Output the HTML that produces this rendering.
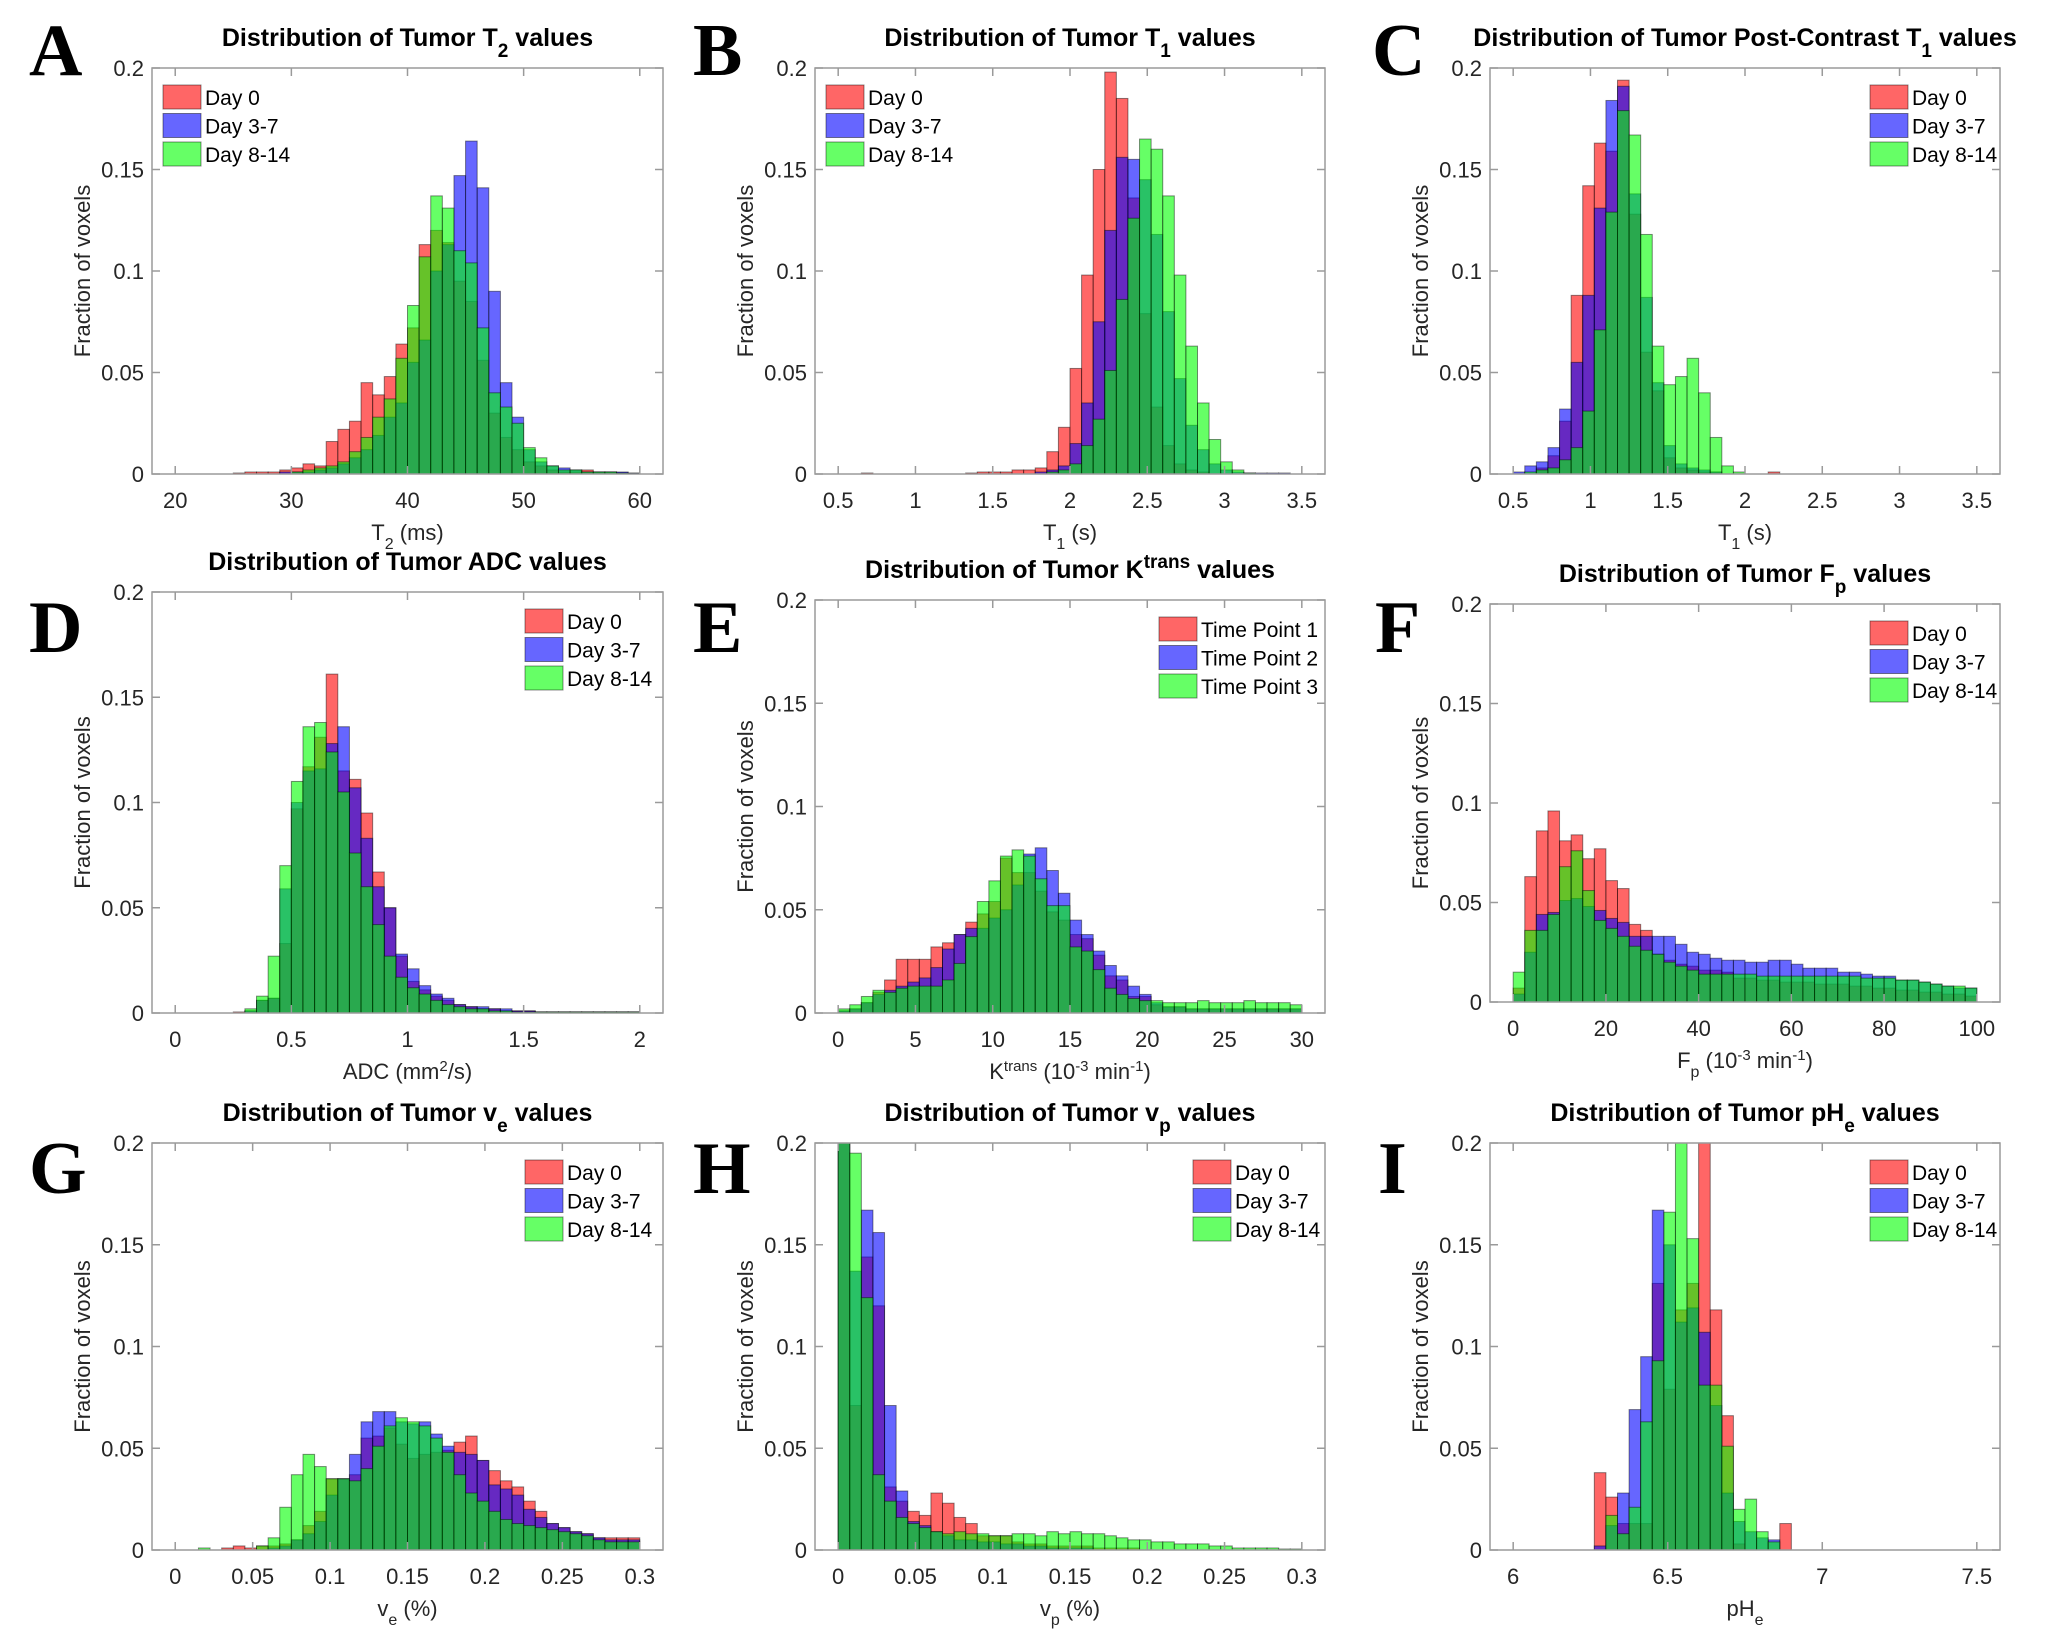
<!DOCTYPE html>
<html><head><meta charset="utf-8"><title>Tumor parameter distributions</title>
<style>
html,body{margin:0;padding:0;background:#fff;}
svg{display:block;font-family:"Liberation Sans",Arial,sans-serif;}
.tick{font-size:22px;fill:#262626;}
.ttl{font-size:25px;font-weight:bold;fill:#000;}
.lab{font-size:22px;fill:#262626;}
.leg{font-size:21px;fill:#000;}
.let{font-family:"Liberation Serif",serif;font-weight:bold;font-size:74px;fill:#000;}
</style></head>
<body>
<svg id="fig" width="2052" height="1647" viewBox="0 0 2052 1647" xmlns="http://www.w3.org/2000/svg"></svg>
<script>
// ---------- Panel A: T2 (bins start 20, width 1) ----------
const aTicks=[20,30,40,50,60];
const aRed=[0,0,0,0,0,0.0005,0.001,0.001,0.001,0.002,0.003,0.005,0.004,0.016,0.022,0.026,0.045,0.039,0.048,0.064,0.072,0.113,0.120,0.114,0.095,0.085,0.056,0.030,0.018,0.012,0.006,0.004,0.002,0.001,0.001,0.002,0.001,0.001,0.0005,0.0003];
const aBlue=[0,0,0,0,0,0,0,0,0,0.001,0.001,0.001,0.002,0.003,0.005,0.008,0.012,0.019,0.028,0.035,0.055,0.066,0.100,0.113,0.147,0.164,0.141,0.090,0.045,0.028,0.012,0.006,0.004,0.003,0.002,0.001,0.001,0.001,0.001,0.0005];
const aGreen=[0,0,0,0,0,0,0,0,0,0,0.001,0.002,0.003,0.004,0.006,0.011,0.018,0.028,0.037,0.057,0.083,0.107,0.137,0.131,0.110,0.104,0.072,0.040,0.033,0.025,0.013,0.008,0.004,0.002,0.002,0.001,0.001,0.001,0.0005,0.0003];
// ---------- Panel B: T1 ----------
const bTicks=[0.5,1,1.5,2,2.5,3,3.5];
const bRed=[0,0,0.0005,0,0,0,0,0,0,0,0,0.0005,0.001,0.001,0.001,0.002,0.002,0.003,0.011,0.023,0.052,0.098,0.150,0.198,0.185,0.136,0.079,0.033,0.014,0.005,0.002,0.001,0,0,0,0,0,0,0,0];
const bBlue=[0,0,0,0,0,0,0,0,0,0,0,0,0,0,0,0,0,0.001,0.002,0.004,0.015,0.035,0.075,0.120,0.156,0.155,0.145,0.118,0.080,0.047,0.024,0.012,0.005,0.002,0.001,0.0005,0.0005,0.0005,0.0005,0];
const bGreen=[0,0,0,0,0,0,0,0,0,0,0,0,0,0,0,0,0,0,0.001,0.002,0.005,0.014,0.027,0.051,0.086,0.126,0.165,0.160,0.137,0.098,0.063,0.035,0.017,0.006,0.002,0.0005,0,0,0,0];
// ---------- Panel C: post-contrast T1 ----------
const cTicks=[0.5,1,1.5,2,2.5,3,3.5];
const cRed=[0,0,0.003,0.009,0.026,0.088,0.142,0.163,0.159,0.194,0.128,0.060,0.041,0.008,0.003,0.002,0.001,0.001,0,0,0,0,0.001,0,0,0,0,0,0,0,0,0,0,0,0,0,0,0,0,0];
const cBlue=[0.001,0.004,0.006,0.013,0.032,0.055,0.088,0.131,0.184,0.191,0.138,0.087,0.045,0.014,0.005,0.003,0.002,0.001,0,0,0,0,0,0,0,0,0,0,0,0,0,0,0,0,0,0,0,0,0,0];
const cGreen=[0,0.001,0.002,0.003,0.007,0.013,0.031,0.071,0.129,0.179,0.167,0.118,0.063,0.044,0.048,0.057,0.040,0.018,0.004,0.001,0,0,0,0,0,0,0,0,0,0,0,0,0,0,0,0,0,0,0,0];
// ---------- Panel D: ADC ----------
const dTicks=[0,0.5,1,1.5,2];
const dRed=[0,0,0,0,0,0.0005,0.001,0.006,0.007,0.033,0.097,0.117,0.131,0.161,0.115,0.111,0.095,0.067,0.050,0.027,0.015,0.011,0.008,0.006,0.004,0.003,0.002,0.002,0.001,0.001,0.001,0.0005,0.0005,0.0005,0.0005,0.0005,0.0005,0.0005,0.0005,0.0005];
const dBlue=[0,0,0,0,0,0,0.001,0.006,0.007,0.059,0.100,0.115,0.116,0.128,0.136,0.107,0.083,0.060,0.050,0.028,0.021,0.013,0.009,0.007,0.004,0.003,0.003,0.002,0.002,0.001,0.001,0.0005,0.0005,0.0005,0.0005,0.0005,0.0005,0.0005,0.0005,0.0005];
const dGreen=[0,0,0,0,0,0,0.002,0.008,0.027,0.070,0.110,0.136,0.138,0.124,0.105,0.076,0.060,0.042,0.027,0.017,0.012,0.009,0.006,0.004,0.003,0.002,0.002,0.001,0.001,0.0005,0.0005,0.0005,0.0005,0.0005,0.0005,0.0005,0.0005,0.0005,0.0005,0.0005];
// ---------- Panel E: Ktrans ----------
const eTicks=[0,5,10,15,20,25,30];
const eRed=[0.001,0.002,0.005,0.010,0.016,0.026,0.026,0.026,0.032,0.034,0.038,0.044,0.048,0.054,0.075,0.068,0.068,0.059,0.049,0.045,0.038,0.036,0.028,0.018,0.016,0.008,0.008,0.004,0.003,0.003,0.002,0.002,0.002,0.002,0.002,0.002,0.002,0.002,0.002,0.002];
const eBlue=[0.001,0.002,0.005,0.009,0.011,0.013,0.015,0.017,0.022,0.031,0.038,0.041,0.041,0.046,0.050,0.062,0.077,0.080,0.069,0.058,0.045,0.038,0.030,0.023,0.018,0.013,0.009,0.005,0.003,0.003,0.002,0.002,0.002,0.002,0.002,0.002,0.002,0.002,0.002,0.002];
const eGreen=[0.002,0.004,0.008,0.011,0.010,0.012,0.013,0.013,0.013,0.016,0.024,0.037,0.054,0.064,0.076,0.079,0.076,0.065,0.052,0.052,0.032,0.030,0.021,0.012,0.009,0.007,0.006,0.006,0.005,0.005,0.005,0.006,0.005,0.005,0.005,0.006,0.005,0.005,0.005,0.004];
// ---------- Panel F: Fp ----------
const fTicks=[0,20,40,60,80,100];
const fRed=[0.007,0.063,0.086,0.096,0.081,0.084,0.072,0.077,0.061,0.057,0.039,0.036,0.024,0.021,0.019,0.018,0.016,0.016,0.015,0.012,0.012,0.011,0.011,0.010,0.010,0.010,0.009,0.009,0.009,0.008,0.008,0.007,0.007,0.006,0.006,0.005,0.005,0.004,0.004,0.003];
const fBlue=[0.004,0.025,0.044,0.045,0.051,0.052,0.048,0.046,0.042,0.040,0.033,0.033,0.033,0.033,0.029,0.025,0.024,0.022,0.021,0.021,0.020,0.020,0.021,0.021,0.019,0.017,0.017,0.017,0.015,0.015,0.014,0.013,0.013,0.011,0.011,0.010,0.009,0.008,0.007,0.007];
const fGreen=[0.015,0.036,0.036,0.044,0.068,0.076,0.056,0.041,0.037,0.033,0.028,0.026,0.024,0.020,0.018,0.016,0.014,0.014,0.014,0.014,0.014,0.013,0.013,0.013,0.013,0.013,0.013,0.013,0.013,0.013,0.012,0.012,0.012,0.011,0.011,0.010,0.009,0.008,0.008,0.007];
// ---------- Panel G: ve ----------
const gTicks=[0,0.05,0.1,0.15,0.2,0.25,0.3];
const gRed=[0,0,0,0,0.001,0.002,0.001,0.002,0.002,0.003,0.005,0.012,0.019,0.035,0.035,0.037,0.055,0.056,0.060,0.052,0.045,0.047,0.048,0.049,0.053,0.056,0.044,0.039,0.034,0.031,0.024,0.019,0.013,0.011,0.009,0.008,0.006,0.006,0.006,0.006];
const gBlue=[0,0,0,0,0,0,0,0,0.001,0.002,0.005,0.008,0.014,0.027,0.035,0.047,0.063,0.068,0.068,0.063,0.062,0.063,0.057,0.051,0.048,0.047,0.044,0.032,0.030,0.027,0.020,0.016,0.013,0.011,0.009,0.008,0.006,0.005,0.005,0.005];
const gGreen=[0,0,0.001,0,0,0,0,0.002,0.006,0.021,0.037,0.047,0.041,0.035,0.035,0.034,0.040,0.051,0.061,0.065,0.063,0.061,0.055,0.048,0.037,0.028,0.024,0.019,0.015,0.013,0.012,0.011,0.010,0.009,0.008,0.007,0.005,0.004,0.004,0.004];
// ---------- Panel H: vp ----------
const hTicks=[0,0.05,0.1,0.15,0.2,0.25,0.3];
const hRed=[0.21,0.071,0.144,0.120,0.031,0.024,0.019,0.017,0.028,0.023,0.016,0.013,0.007,0.007,0.007,0.004,0.003,0.003,0.002,0.002,0.002,0.002,0.001,0.001,0.001,0.001,0,0,0,0,0,0,0,0,0,0,0,0,0,0];
const hBlue=[0.25,0.137,0.167,0.156,0.071,0.029,0.014,0.012,0.009,0.007,0.005,0.005,0.004,0.004,0.003,0.003,0.002,0.002,0.001,0.001,0.001,0.001,0,0,0,0,0,0,0,0,0,0,0,0,0,0,0,0,0,0];
const hGreen=[0.23,0.195,0.124,0.037,0.024,0.016,0.013,0.011,0.009,0.008,0.009,0.008,0.008,0.007,0.007,0.008,0.008,0.007,0.009,0.008,0.009,0.008,0.008,0.007,0.006,0.005,0.005,0.004,0.004,0.003,0.003,0.003,0.002,0.002,0.001,0.001,0.001,0.001,0.0005,0.0005];
// ---------- Panel I: pHe ----------
const iTicks=[6,6.5,7,7.5];
const iRed=[0,0,0,0,0,0,0,0.038,0.026,0.013,0.013,0.013,0.131,0.079,0.118,0.131,0.22,0.118,0.066,0.003,0,0,0,0.013,0,0,0,0,0,0,0,0,0,0,0,0,0,0,0,0];
const iBlue=[0,0,0,0,0,0,0,0.002,0.012,0.028,0.069,0.095,0.167,0.150,0.112,0.119,0.107,0.071,0.028,0.014,0.009,0.006,0.005,0,0,0,0,0,0,0,0,0,0,0,0,0,0,0,0,0];
const iGreen=[0,0,0,0,0,0,0,0,0.017,0.008,0.021,0.063,0.093,0.166,0.23,0.153,0.081,0.081,0.051,0.020,0.025,0.009,0.004,0,0,0,0,0,0,0,0,0,0,0,0,0,0,0,0,0];

const yTicks=[0,0.05,0.1,0.15,0.2];
const yTickLabels=["0","0.05","0.1","0.15","0.2"];
const dayNames=["Day 0","Day 3-7","Day 8-14"];
const tpNames=["Time Point 1","Time Point 2","Time Point 3"];

const NS="http://www.w3.org/2000/svg";
const svg=document.getElementById('fig');
function mk(tag,attrs,parent){const e=document.createElementNS(NS,tag);for(const k in attrs)e.setAttribute(k,attrs[k]);(parent||svg).appendChild(e);return e;}

const panels=[
 {id:'a',letter:'A',lx:29,ly:75,L:152,R:663,T:68,B:474,ticks:aTicks,series:[aRed,aBlue,aGreen],names:dayNames,legLeft:true,legX:163,
  title:'Distribution of Tumor T<tspan baseline-shift="sub" font-size="19">2</tspan> values',xlab:'T<tspan baseline-shift="sub" font-size="16">2</tspan> (ms)'},
 {id:'b',letter:'B',lx:693,ly:75,L:815,R:1325,T:68,B:474,ticks:bTicks,series:[bRed,bBlue,bGreen],names:dayNames,legX:826,
  title:'Distribution of Tumor T<tspan baseline-shift="sub" font-size="19">1</tspan> values',xlab:'T<tspan baseline-shift="sub" font-size="16">1</tspan> (s)'},
 {id:'c',letter:'C',lx:1372,ly:75,L:1490,R:2000,T:68,B:474,ticks:cTicks,series:[cRed,cBlue,cGreen],names:dayNames,legX:1870,
  title:'Distribution of Tumor Post-Contrast T<tspan baseline-shift="sub" font-size="19">1</tspan> values',xlab:'T<tspan baseline-shift="sub" font-size="16">1</tspan> (s)'},
 {id:'d',letter:'D',lx:29,ly:652,L:152,R:663,T:592,B:1013,ticks:dTicks,series:[dRed,dBlue,dGreen],names:dayNames,legX:525,
  title:'Distribution of Tumor ADC values',xlab:'ADC (mm<tspan baseline-shift="super" font-size="15">2</tspan>/s)'},
 {id:'e',letter:'E',lx:693,ly:652,L:815,R:1325,T:600,B:1013,ticks:eTicks,series:[eRed,eBlue,eGreen],names:tpNames,legX:1159,
  title:'Distribution of Tumor K<tspan baseline-shift="super" font-size="19">trans</tspan> values',xlab:'K<tspan baseline-shift="super" font-size="15">trans</tspan> (10<tspan baseline-shift="super" font-size="15">-3</tspan> min<tspan baseline-shift="super" font-size="15">-1</tspan>)'},
 {id:'f',letter:'F',lx:1375,ly:652,L:1490,R:2000,T:604,B:1002,ticks:fTicks,series:[fRed,fBlue,fGreen],names:dayNames,legX:1870,
  title:'Distribution of Tumor F<tspan baseline-shift="sub" font-size="19">p</tspan> values',xlab:'F<tspan baseline-shift="sub" font-size="16">p</tspan> (10<tspan baseline-shift="super" font-size="15">-3</tspan> min<tspan baseline-shift="super" font-size="15">-1</tspan>)'},
 {id:'g',letter:'G',lx:29,ly:1193,L:152,R:663,T:1143,B:1550,ticks:gTicks,series:[gRed,gBlue,gGreen],names:dayNames,legX:525,
  title:'Distribution of Tumor v<tspan baseline-shift="sub" font-size="19">e</tspan> values',xlab:'v<tspan baseline-shift="sub" font-size="16">e</tspan> (%)'},
 {id:'h',letter:'H',lx:693,ly:1193,L:815,R:1325,T:1143,B:1550,ticks:hTicks,series:[hRed,hBlue,hGreen],names:dayNames,legX:1193,
  title:'Distribution of Tumor v<tspan baseline-shift="sub" font-size="19">p</tspan> values',xlab:'v<tspan baseline-shift="sub" font-size="16">p</tspan> (%)'},
 {id:'i',letter:'I',lx:1378,ly:1193,L:1490,R:2000,T:1143,B:1550,ticks:iTicks,series:[iRed,iBlue,iGreen],names:dayNames,legX:1870,
  title:'Distribution of Tumor pH<tspan baseline-shift="sub" font-size="19">e</tspan> values',xlab:'pH<tspan baseline-shift="sub" font-size="16">e</tspan>'}
];
const colors=['#ff0000','#0000ff','#00ff00'];
const seriesKeys=['day0','day3-7','day8-14'];

panels.forEach(p=>{
  const g=mk('g',{});
  
  
  const t0=p.ticks[0],t1=p.ticks[p.ticks.length-1];
  const pad=0.05*(t1-t0);
  const xmin=t0-pad,xmax=t1+pad;
  const xs=v=>p.L+(v-xmin)/(xmax-xmin)*(p.R-p.L);
  const ys=v=>p.B-(Math.min(v,0.2)/0.2)*(p.B-p.T);
  const bw=(t1-t0)/40;
  // panel letter
  const lt=mk('text',{x:p.lx,y:p.ly,class:'let'},g);lt.textContent=p.letter;
  
  
  // white plot background
  mk('rect',{x:p.L,y:p.T,width:p.R-p.L,height:p.B-p.T,fill:'#fff'},g);
  // bars
  p.series.forEach((arr,si)=>{
    const sg=mk('g',{},g);
    
    
    arr.forEach((v,k)=>{
      if(v<=0)return;
      const x0=xs(t0+k*bw),x1=xs(t0+(k+1)*bw);
      const r=mk('rect',{x:x0.toFixed(2),y:ys(v).toFixed(2),width:(x1-x0).toFixed(2),height:(p.B-ys(v)).toFixed(2),fill:colors[si],'fill-opacity':0.6,stroke:'#000','stroke-opacity':0.45,'stroke-width':1},sg);
      
      
    });
  });
  // axes box
  const box=mk('rect',{x:p.L,y:p.T,width:p.R-p.L,height:p.B-p.T,fill:'none',stroke:'#9a9a9a','stroke-width':1.5},g);
  
  
  // x ticks
  p.ticks.forEach(t=>{
    const x=xs(t);
    mk('line',{x1:x,y1:p.B,x2:x,y2:p.B-8,stroke:'#9a9a9a','stroke-width':1.5},g);
    mk('line',{x1:x,y1:p.T,x2:x,y2:p.T+8,stroke:'#9a9a9a','stroke-width':1.5},g);
    const tx=mk('text',{x:x,y:p.B+34,class:'tick','text-anchor':'middle'},g);tx.textContent=String(t);
    
    
  });
  // y ticks
  yTicks.forEach((t,i)=>{
    const y=ys(t);
    mk('line',{x1:p.L,y1:y,x2:p.L+8,y2:y,stroke:'#9a9a9a','stroke-width':1.5},g);
    mk('line',{x1:p.R,y1:y,x2:p.R-8,y2:y,stroke:'#9a9a9a','stroke-width':1.5},g);
    const ty=mk('text',{x:p.L-8,y:y+8,class:'tick','text-anchor':'end'},g);ty.textContent=yTickLabels[i];
    
    
  });
  // title
  const tt=mk('text',{x:(p.L+p.R)/2,y:p.T-22,class:'ttl','text-anchor':'middle'},g);
  tt.innerHTML=p.title;
  
  
  // x label
  const xl=mk('text',{x:(p.L+p.R)/2,y:p.B+66,class:'lab','text-anchor':'middle'},g);
  xl.innerHTML=p.xlab;
  
  
  // y label
  const cy=(p.T+p.B)/2,cx=p.L-62;
  const yl=mk('text',{x:cx,y:cy,class:'lab','text-anchor':'middle',transform:'rotate(-90 '+cx+' '+cy+')'},g);
  yl.textContent='Fraction of voxels';
  
  
  // legend
  const lg=mk('g',{},g);
  
  
  p.names.forEach((nm,i)=>{
    const cyL=p.T+29+i*28.5;
    const sw=mk('rect',{x:p.legX,y:cyL-12,width:38,height:24,fill:colors[i],'fill-opacity':0.6,stroke:'#000','stroke-opacity':0.45,'stroke-width':1},lg);
    
    
    const lt2=mk('text',{x:p.legX+42,y:cyL+8,class:'leg'},lg);lt2.textContent=nm;
    
    
  });
});
</script>
</body></html>
